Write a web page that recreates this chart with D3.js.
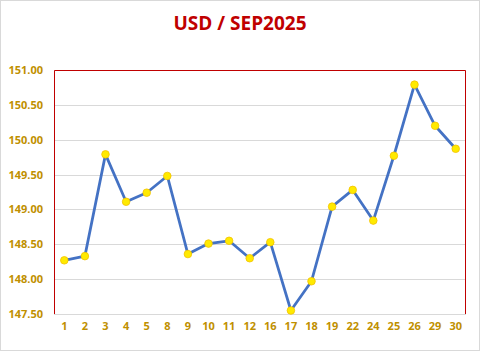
<!DOCTYPE html>
<html>
<head>
<meta charset="utf-8">
<script src="https://cdn.jsdelivr.net/npm/d3@7"></script>
<style>
  body { margin: 0; background: #fff; }
</style>
</head>
<body>
<div id="chart"></div>
<script>
const days = ["1", "2", "3", "4", "5", "8", "9", "10", "11", "12", "16", "17", "18", "19", "22", "24", "25", "26", "29", "30"];
const rates = [148.27, 148.33, 149.79, 149.11, 149.24, 149.48, 148.36, 148.51, 148.55, 148.30,
               148.53, 147.55, 147.97, 149.04, 149.28, 148.84, 149.77, 150.79, 150.20, 149.87];
const yTicks = [147.5, 148, 148.5, 149, 149.5, 150, 150.5, 151];

const WIDTH = 480, HEIGHT = 351;
const MARGIN = { top: 70, right: 14, bottom: 37, left: 54 };
const INNER_WIDTH = WIDTH - MARGIN.left - MARGIN.right;
const INNER_HEIGHT = HEIGHT - MARGIN.top - MARGIN.bottom;

const root = d3.select("#chart")
  .append("svg")
  .attr("width", WIDTH)
  .attr("height", HEIGHT);

// outer frame
root.append("rect")
  .attr("x", 0.5).attr("y", 0.5)
  .attr("width", WIDTH - 1).attr("height", HEIGHT - 1)
  .attr("fill", "#fff")
  .attr("stroke", "#d9d9d9");

root.append("text")
  .attr("x", WIDTH / 2)
  .attr("y", 30)
  .attr("text-anchor", "middle")
  .style("font-family", "'Open Sans', sans-serif")
  .style("font-weight", "bold")
  .style("font-size", "19px")
  .attr("fill", "#C00000")
  .text("USD / SEP2025");

const svg = root.append("g")
  .attr("transform", `translate(${MARGIN.left}, ${MARGIN.top})`);

const x = d3.scaleBand()
  .domain(days)
  .range([0, INNER_WIDTH]);

const y = d3.scaleLinear()
  .domain([147.5, 151])
  .range([INNER_HEIGHT, 0]);

// gridlines
svg.append("g")
  .selectAll("line")
  .data(yTicks)
  .join("line")
  .attr("x1", 0).attr("x2", INNER_WIDTH)
  .attr("y1", d => Math.round(y(d)) + 0.5)
  .attr("y2", d => Math.round(y(d)) + 0.5)
  .attr("stroke", "#d9d9d9");

// plot border (left, top, right)
svg.append("path")
  .attr("d", `M0.5,${INNER_HEIGHT}V0.5H${INNER_WIDTH - 0.5}V${INNER_HEIGHT}`)
  .attr("fill", "none")
  .attr("stroke", "#C00000");

// axes
const yAxis = svg.append("g")
  .call(d3.axisLeft(y).tickValues(yTicks).tickFormat(d3.format(".2f")).tickSize(0).tickPadding(11));
yAxis.select(".domain").remove();

const xAxis = svg.append("g")
  .attr("transform", `translate(0, ${INNER_HEIGHT})`)
  .call(d3.axisBottom(x).tickSize(0).tickPadding(8));
xAxis.select(".domain").remove();

svg.selectAll(".tick text")
  .style("font-family", "'Open Sans', sans-serif")
  .style("font-weight", "bold")
  .style("font-size", "11px")
  .attr("fill", "#BF9000");

// line
const line = d3.line()
  .x((d, i) => x(days[i]) + x.bandwidth() / 2)
  .y(d => y(d));

svg.append("path")
  .datum(rates)
  .attr("fill", "none")
  .attr("stroke", "#4472C4")
  .attr("stroke-width", 2.75)
  .attr("stroke-linejoin", "round")
  .attr("d", line);

// points
svg.selectAll("circle")
  .data(rates)
  .join("circle")
  .attr("cx", (d, i) => x(days[i]) + x.bandwidth() / 2)
  .attr("cy", d => y(d))
  .attr("r", 3.8)
  .attr("fill", "#FFEA00")
  .attr("stroke", "#F2C200")
  .attr("stroke-width", 0.8);
</script>
</body>
</html>
